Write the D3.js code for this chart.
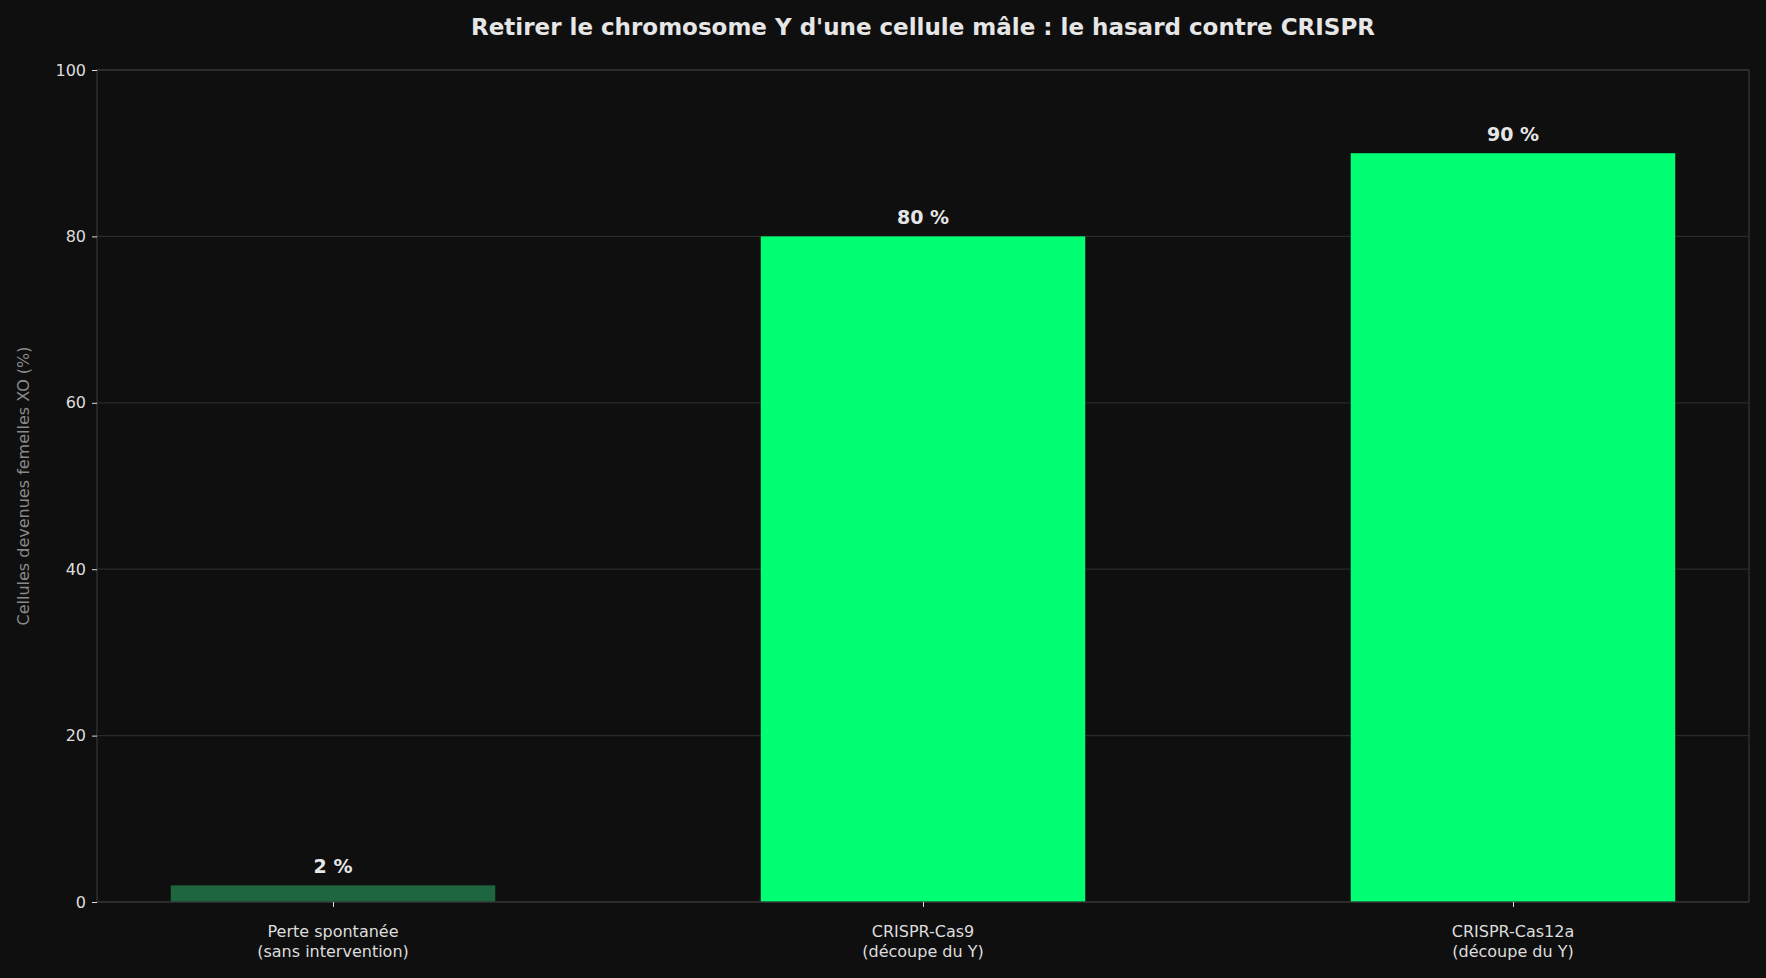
<!DOCTYPE html>
<html><head><meta charset="utf-8">
<script src="https://cdn.jsdelivr.net/npm/d3@7"></script>
<style>body{margin:0;background:#0f0f0f}</style></head>
<body><svg id="c" width="1766" height="978"></svg>
<script>
const categories = [["Perte spontanée","(sans intervention)"],["CRISPR-Cas9","(découpe du Y)"],["CRISPR-Cas12a","(découpe du Y)"]];
const values = [2, 80, 90];
const barColors = ["#1e6640", "#00ff73", "#00ff73"];
const yTicks = [0, 20, 40, 60, 80, 100];
const font = "DejaVu Sans, sans-serif";
const svg = d3.select("#c");
svg.append("rect").attr("width",1766).attr("height",978).attr("fill","#0f0f0f");
const L=97,R=1749,T=70,B=902;
const x = d3.scaleLinear().domain([-0.4,2.4]).range([L,R]);
const y = d3.scaleLinear().domain([0,100]).range([B,T]);
const bw = (x(1)-x(0))*0.55;
const g = svg.append("g");
g.selectAll(".grid").data(yTicks).enter().append("line")
 .attr("x1",L).attr("x2",R).attr("y1",d=>y(d)).attr("y2",d=>y(d))
 .attr("stroke","#2a2a2a").attr("stroke-width",1.3);
g.selectAll(".bar").data(values).enter().append("rect")
 .attr("x",(d,i)=>x(i)-bw/2).attr("width",bw)
 .attr("y",d=>y(d)).attr("height",d=>B-y(d)).attr("fill",(d,i)=>barColors[i]);
g.selectAll(".lbl").data(values).enter().append("text")
 .attr("x",(d,i)=>x(i)).attr("y",d=>y(d)-12).attr("text-anchor","middle")
 .attr("fill","#e6e6e6").attr("font-family",font).attr("font-weight","bold").attr("font-size",19)
 .text(d=>d+" %");
g.append("rect").attr("x",L).attr("y",T).attr("width",R-L).attr("height",B-T)
 .attr("fill","none").attr("stroke","#333").attr("stroke-width",1.3);
const ya = svg.append("g").attr("transform",`translate(${L},0)`)
 .call(d3.axisLeft(y).tickValues(yTicks).tickSize(5).tickPadding(6));
ya.select(".domain").remove();
ya.selectAll("line").attr("stroke","#ddd");
ya.selectAll("text").attr("fill","#ddd").attr("font-family",font).attr("font-size",16);
const xa = svg.append("g").attr("transform",`translate(0,${B})`)
 .call(d3.axisBottom(x).tickValues([0,1,2]).tickSize(5).tickFormat(""));
xa.select(".domain").remove();
xa.selectAll("line").attr("stroke","#ddd");
categories.forEach((c,i)=>{
 const t = svg.append("text").attr("x",x(i)).attr("y",B+35).attr("text-anchor","middle")
  .attr("fill","#ddd").attr("font-family",font).attr("font-size",16);
 c.forEach((s,j)=>t.append("tspan").attr("x",x(i)).attr("dy",j?20:0).text(s));
});
svg.append("text").attr("transform",`translate(29,${(T+B)/2}) rotate(-90)`)
 .attr("text-anchor","middle").attr("fill","#8a8a8a").attr("font-family",font).attr("font-size",16)
 .text("Cellules devenues femelles XO (%)");
svg.append("text").attr("x",(L+R)/2).attr("y",35).attr("text-anchor","middle")
 .attr("fill","#e6e6e6").attr("font-family",font).attr("font-weight","bold").attr("font-size",23)
 .text("Retirer le chromosome Y d'une cellule mâle : le hasard contre CRISPR");
</script></body></html>
